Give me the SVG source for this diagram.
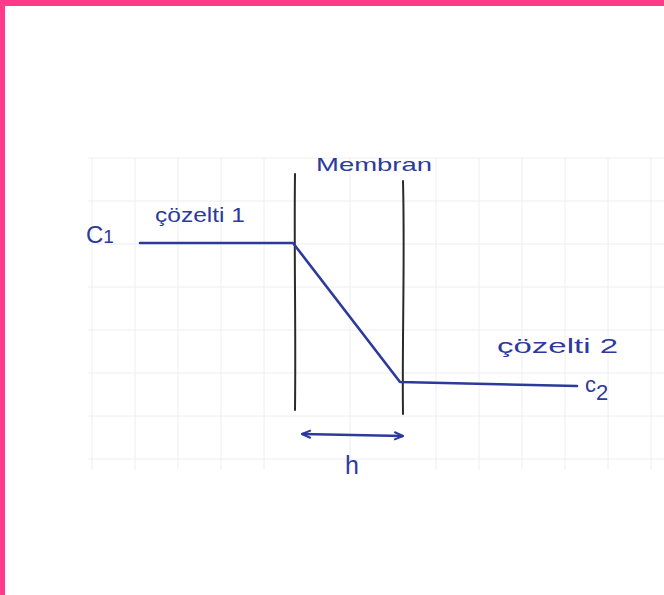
<svg xmlns="http://www.w3.org/2000/svg" width="664" height="595" viewBox="0 0 664 595">
<style>
.grid{stroke:#eeeef2;stroke-width:1;fill:none}
.wall{stroke:#2a2a2e;stroke-width:2;fill:none;stroke-linecap:round}
.prof{stroke:#2c3a9c;stroke-width:2.6;fill:none;stroke-linecap:round;stroke-linejoin:round}
.lbl{font-family:"Liberation Sans",Arial,sans-serif;fill:#2c3a9c}
</style>
<defs>
<marker id="ah" viewBox="0 0 10 10" refX="9" refY="5" markerWidth="11" markerHeight="11" orient="auto-start-reverse" markerUnits="userSpaceOnUse">
<path d="M1,1.5 L9,5 L1,8.5" fill="none" stroke="#2c3a9c" stroke-width="1.8"/>
</marker>
</defs>
<rect x="0" y="0" width="664" height="595" fill="#ffffff"/>
<g id="grid" class="grid">
<path d="M88,158H664 M88,201H664 M88,244H664 M88,287H664 M88,330H664 M88,373H664 M88,416H664 M88,459H664"/>
<path d="M92,158V470 M135,158V470 M178,158V470 M221,158V470 M264,158V470 M350,158V470 M436,158V470 M479,158V470 M522,158V470 M565,158V470 M608,158V470 M651,158V470"/>
</g>
<g id="border" fill="#ff3a8a">
<rect x="0" y="0" width="664" height="6"/>
<rect x="0" y="0" width="5" height="595"/>
</g>
<g id="membrane">
<path class="wall" d="M295,174 C294,250 296,330 295,410"/>
<path class="wall" d="M403,181 C405,260 402,340 403,414"/>
<text class="lbl" x="316" y="171" font-size="19" textLength="116" lengthAdjust="spacingAndGlyphs">Membran</text>
</g>
<g id="solution1">
<text class="lbl" x="86" y="243" font-size="24">C<tspan font-size="19">1</tspan></text>
<text class="lbl" x="155" y="222" font-size="20" textLength="90" lengthAdjust="spacingAndGlyphs">çözelti 1</text>
</g>
<g id="solution2">
<text class="lbl" x="497" y="353" font-size="21" textLength="121" lengthAdjust="spacingAndGlyphs">çözelti 2</text>
<text class="lbl" x="585" y="392" font-size="22">c<tspan font-size="22" dy="8">2</tspan></text>
</g>
<g id="connectors">
<path class="prof" d="M140,243 L293,243 L400,382 L577,386"/>
<path d="M302,434 L403,436" stroke="#2c3a9c" stroke-width="2.6" fill="none" marker-start="url(#ah)" marker-end="url(#ah)"/>
</g>
<g id="thickness">
<text class="lbl" x="345" y="474" font-size="25">h</text>
</g>
</svg>
